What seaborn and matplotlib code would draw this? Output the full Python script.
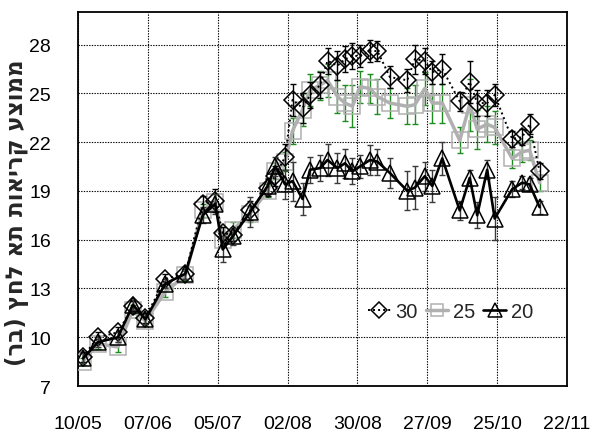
import matplotlib
matplotlib.use("Agg")
import matplotlib.pyplot as plt
from matplotlib import font_manager
import pandas as pd
import seaborn as sns

# Measurement dates (day/month)
dates = ["12/05", "18/05", "26/05", "01/06", "06/06", "14/06", "22/06", "29/06",
         "04/07", "07/07", "11/07", "18/07", "25/07", "28/07", "01/08", "04/08",
         "08/08", "11/08", "15/08", "18/08", "22/08", "25/08", "28/08", "31/08",
         "04/09", "07/09", "12/09", "19/09", "22/09", "26/09", "29/09", "03/10",
         "10/10", "14/10", "17/10", "21/10", "24/10", "31/10", "04/11", "07/11",
         "11/11"]

# Mean pressure-chamber readings (bar) per treatment
s30 = [8.8, 10.0, 10.3, 11.9, 11.2, 13.6, 13.9, 18.2, 18.4, 16.4, 16.3, 17.8,
       19.2, 19.9, 21.1, 24.6, 24.1, 24.9, 25.5, 27.0, 26.7, 27.1, 27.3, 27.3,
       27.6, 27.6, 26.0, 25.8, 27.1, 27.0, 26.3, 26.5, 24.5, 25.7, 24.4, 24.4,
       24.9, 22.2, 22.3, 23.1, 20.2]
s25 = [8.5, 9.6, 9.4, 11.7, 11.0, 12.8, 13.8, 17.8, 18.3, 16.0, 16.6, 17.6,
       19.0, 20.2, 20.8, 22.7, 24.0, 25.2, 25.5, 25.8, 24.8, 24.4, 24.2, 25.4,
       25.3, 24.8, 24.4, 24.2, 24.3, 25.3, 24.4, 24.4, 22.1, 24.3, 22.8, 23.1,
       22.9, 21.0, 21.4, 21.5, 19.5]
s20 = [8.7, 9.7, 10.0, 12.0, 11.1, 13.3, 13.9, 17.5, 18.2, 15.4, 16.2, 17.7,
       19.3, 20.5, 19.4, 19.6, 18.5, 20.3, 20.4, 20.9, 20.4, 20.7, 20.2, 20.5,
       20.9, 20.8, 20.1, 19.0, 19.2, 19.9, 19.3, 21.0, 17.8, 19.8, 17.5, 20.3,
       17.3, 19.1, 19.5, 19.4, 18.0]

# Standard errors
e30 = [0.3, 0.3, 0.3, 0.3, 0.3, 0.3, 0.3, 0.5, 0.7, 0.4, 0.4, 0.6, 0.5, 0.6,
       0.8, 1.0, 0.9, 0.8, 0.8, 0.8, 0.9, 0.8, 0.8, 0.7, 0.7, 0.6, 0.7, 0.7,
       0.9, 0.8, 0.7, 0.9, 0.6, 1.3, 0.8, 0.8, 0.7, 0.5, 0.5, 0.6, 0.5]
e25 = [0.2, 0.3, 0.3, 0.3, 0.3, 0.3, 0.3, 0.4, 0.5, 0.4, 0.5, 0.5, 0.4, 0.5,
       0.6, 0.8, 1.0, 1.0, 0.9, 1.0, 1.0, 1.1, 1.3, 1.0, 0.9, 1.1, 0.9, 1.1,
       1.2, 1.0, 1.2, 1.2, 0.8, 1.6, 1.2, 1.1, 1.0, 0.6, 0.6, 0.6, 0.5]
e20 = [0.3, 0.3, 0.3, 0.3, 0.3, 0.3, 0.3, 0.5, 0.6, 0.8, 0.5, 0.9, 0.5, 0.6,
       0.9, 1.2, 1.0, 0.8, 0.8, 1.0, 0.9, 0.9, 0.8, 0.7, 0.9, 0.8, 0.9, 1.2,
       1.3, 0.9, 1.0, 1.0, 0.6, 0.5, 0.8, 0.6, 1.3, 0.5, 0.4, 0.4, 0.4]

series_names = ["30", "25", "20"]
xtick_labels = ["10/05", "07/06", "05/07", "02/08", "30/08", "27/09", "25/10", "22/11"]
yticks = [7, 10, 13, 16, 19, 22, 25, 28]
ylabel = "ממוצע קריאות תא לחץ (בר)"


def visual_rtl(text):
    """Reverse a right-to-left string into display order, mirroring brackets."""
    swap = {"(": ")", ")": "("}
    return "".join(swap.get(c, c) for c in reversed(text))


YEAR = "2009"
x = pd.to_datetime([d + "/" + YEAR for d in dates], format="%d/%m/%Y")

sns.set_style("white")
available = {f.name for f in font_manager.fontManager.ttflist}
narrow = "Liberation Sans Narrow" if "Liberation Sans Narrow" in available else "Liberation Sans"
plt.rcParams["font.family"] = [narrow, "DejaVu Sans"]

fig = plt.figure(figsize=(5.92, 4.35), dpi=100)
ax = fig.add_axes([0.1318, 0.1103, 0.826, 0.8598])

styles = {
    "30": dict(y=s30, e=e30, color="black", ls=(0, (1, 1.6)), lw=1.4,
               marker="D", ms=9.5, ecol="black", z=4),
    "25": dict(y=s25, e=e25, color="#b0b0b0", ls="-", lw=2.5,
               marker="s", ms=11, ecol="#1e8c1e", z=3),
    "20": dict(y=s20, e=e20, color="black", ls="-", lw=1.9,
               marker="^", ms=12, ecol="#3a3a3a", z=5),
}

for name in ["25", "30", "20"]:
    st = styles[name]
    ax.errorbar(x, st["y"], yerr=st["e"], fmt="none", ecolor=st["ecol"],
                elinewidth=1.0, capsize=2.5, capthick=1.0, zorder=st["z"] - 1)
    sns.lineplot(x=x, y=st["y"], ax=ax, color=st["color"], linestyle=st["ls"],
                 linewidth=st["lw"], marker=st["marker"], markersize=st["ms"],
                 markerfacecolor="none", markeredgecolor=st["color"],
                 markeredgewidth=1.1, label=name, zorder=st["z"])

h, l = ax.get_legend_handles_labels()
hmap = dict(zip(l, h))
ax.legend([hmap[n] for n in series_names], series_names, ncol=3, frameon=False,
          loc="center", bbox_to_anchor=(0.762, 0.198), fontsize=14.5,
          handlelength=1.1, handletextpad=0.25, columnspacing=0.4,
          markerscale=0.85)

start = pd.Timestamp("2009-05-10")
ax.set_xlim(start, pd.Timestamp("2009-11-22"))
tick_dates = [start + pd.Timedelta(days=28 * i) for i in range(len(xtick_labels))]
ax.set_xticks(tick_dates)
ax.set_xticklabels(xtick_labels)
ax.set_ylim(7, 30)
ax.set_yticks(yticks)
ax.set_yticklabels([str(v) for v in yticks])

ax.grid(True, which="major", color="black", linestyle=(0, (1.2, 1.2)), linewidth=0.8)
ax.set_axisbelow(True)
for side in ["left", "bottom", "top", "right"]:
    ax.spines[side].set_visible(True)
    ax.spines[side].set_color("black")
    ax.spines[side].set_linewidth(1.3)

ax.tick_params(axis="both", direction="out", length=6, width=1, labelsize=14,
               color="black", labelcolor="black")
ax.tick_params(axis="y", pad=13.5)
ax.tick_params(axis="x", pad=15)

ax.set_xlabel("")
ax.set_ylabel(visual_rtl(ylabel), fontsize=16.5, fontweight="bold",
              family=["DejaVu Sans"])
ax.yaxis.set_label_coords(-0.1, 0.465)

fig.savefig("out.png", dpi=100)
